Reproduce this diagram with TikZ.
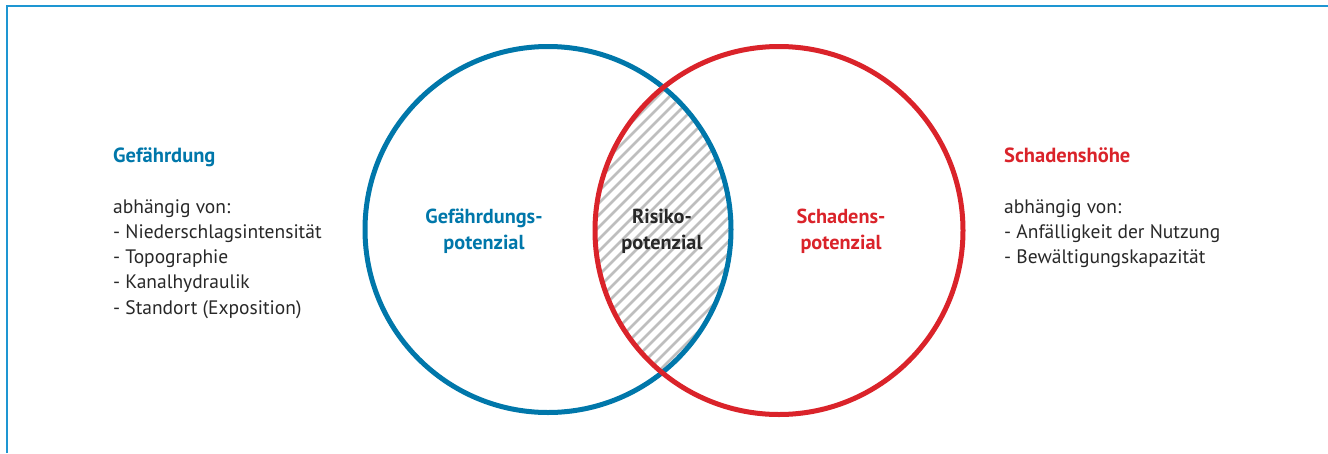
\documentclass[tikz,border=0pt]{standalone}
\usepackage{fontspec}
\setmainfont{PT Sans}
\usetikzlibrary{positioning}

\definecolor{hazardblue}{RGB}{0,119,170}
\definecolor{damagered}{RGB}{218,35,42}
\definecolor{hatchgray}{RGB}{190,190,190}
\definecolor{framecyan}{RGB}{30,150,210}
\definecolor{textgray}{RGB}{40,40,40}

\begin{document}
\begin{tikzpicture}[
        x=1pt,
        y=-1pt,
        ring-hazard/.style={
            draw=hazardblue,
            line width=5pt,
        },
        ring-damage/.style={
            draw=damagered,
            line width=5pt,
        },
        hatch-line/.style={
            draw=hatchgray,
            line width=2.8pt,
        },
        frame-line/.style={
            draw=framecyan,
            line width=1.6pt,
        },
        label-head/.style={
            font=\bfseries\fontsize{20.5}{25.3}\selectfont,
            inner sep=0pt,
            anchor=base west,
        },
        label-list/.style={
            font=\fontsize{19.5}{25.3}\selectfont,
            text=textgray,
            align=left,
            inner sep=0pt,
            anchor=north west,
        },
        label-circle/.style={
            font=\bfseries\fontsize{20.3}{26}\selectfont,
            align=center,
            inner sep=0pt,
        },
    ]
    \useasboundingbox (0,0) rectangle (1328,453);

    % Frame.
    \draw[frame-line] (7,453) -- (7,6) -- (1328,6);

    % Circle centres.
    \coordinate (hazard-centre) at (548,229.5);
    \coordinate (damage-centre) at (779,230.5);

    % Hatched overlap.
    \begin{scope}
        \clip (hazard-centre) circle[radius=183pt];
        \clip (damage-centre) circle[radius=184pt];
        \foreach \k in {0,...,38}
        \draw[hatch-line] (250+\k*12,420) -- ++(400,-400);
    \end{scope}

    % Circles.
    \draw[ring-hazard] (hazard-centre) circle[radius=183pt];
    \draw[ring-damage] (damage-centre) circle[radius=184pt];

    % Circle labels.
    \node[label-circle, text=hazardblue] (hazard-pot) at (484,231) {Gefährdungs-\\potenzial};
    \node[label-circle, text=textgray] (risk-pot) at (662,231) {Risiko-\\potenzial};
    \node[label-circle, text=damagered] (damage-pot) at (841,231) {Schadens-\\potenzial};

    % Left side text.
    \node[label-head, text=hazardblue] (hazard-head) at (113,162) {Gefährdung};
    \node[label-list] (hazard-list) at (113,199) {abhängig von:\\- Niederschlagsintensität\\- Topographie\\- Kanalhydraulik\\- Standort (Exposition)};

    % Right side text.
    \node[label-head, text=damagered] (damage-head) at (1004,162) {Schadenshöhe};
    \node[label-list] (damage-list) at (1004,199) {abhängig von:\\- Anfälligkeit der Nutzung\\- Bewältigungskapazität};
\end{tikzpicture}
\end{document}
